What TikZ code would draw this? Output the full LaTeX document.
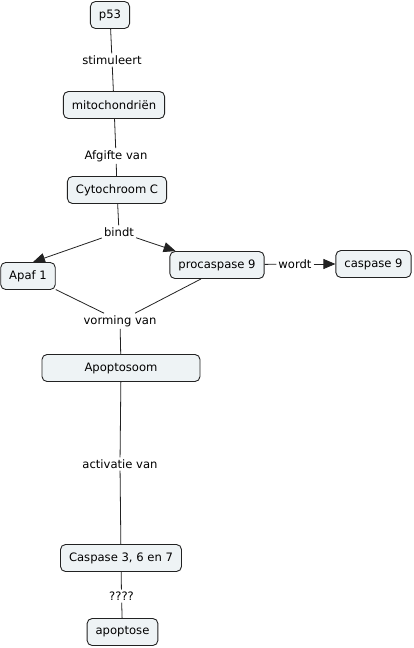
\documentclass[tikz,border=0pt]{standalone}
\usepackage{fontspec}
\setmainfont{DejaVu Sans}
\usetikzlibrary{arrows.meta}
\definecolor{CMFill}{HTML}{EEF3F5}
\definecolor{CMLine}{HTML}{222222}
\tikzset{
  concept/.style={draw=CMLine,line width=0.9pt,fill=CMFill,rounded corners=5pt,
                  text=black,inner xsep=8.5pt,minimum height=27pt,
                  font=\fontsize{11.6}{14}\selectfont},
  linkword/.style={text=black,inner sep=2pt,font=\fontsize{11.6}{14}\selectfont},
  link/.style={CMLine,line width=0.8pt},
  linkarrow/.style={link,-{Triangle[length=12pt,width=10pt]}},
}
\begin{document}
\begin{tikzpicture}[x=1pt,y=-1pt]
  \useasboundingbox (0,0) rectangle (414,648);
  % concepts
  \node[concept] (p53) at (110,15) {p53};
  \node[concept] (mito) at (114,105) {mitochondriën};
  \node[concept] (cyto) at (117,190) {Cytochroom C};
  \node[concept] (apaf) at (28,276) {Apaf 1};
  \node[concept] (proc) at (217,265) {procaspase 9};
  \node[concept] (casp9) at (373.5,264) {caspase 9};
  \node[concept,minimum width=158pt] (apopt) at (121,368) {Apoptosoom};
  \node[concept] (casp367) at (121,558) {Caspase 3, 6 en 7};
  \node[concept] (apoptose) at (122.5,632) {apoptose};

  % linking words
  \node[linkword] (stim) at (112,60) {stimuleert};
  \node[linkword] (afg) at (116,156) {Afgifte van};
  \node[linkword] (bindt) at (119,232) {bindt};
  \node[linkword] (wordt) at (295,264) {wordt};
  \node[linkword] (vorm) at (120,321) {vorming van};
  \node[linkword] (activ) at (120,464) {activatie van};
  \node[linkword] (vraag) at (121.5,596) {????};

  % connections
  \draw[link] (p53) -- (stim);
  \draw[link] (stim) -- (mito);
  \draw[link] (mito) -- (afg);
  \draw[link] (afg) -- (cyto);
  \draw[link] (cyto) -- (bindt);
  \draw[linkarrow] (bindt) -- ([xshift=5pt]apaf.north);
  \draw[linkarrow] (bindt) -- (proc);
  \draw[link] (proc) -- (wordt);
  \draw[linkarrow] (wordt) -- (casp9);
  \draw[link] (apaf) -- (vorm);
  \draw[link] ([xshift=-16pt]proc.south) -- (vorm);
  \draw[link] (vorm) -- (apopt);
  \draw[link] (apopt) -- (activ);
  \draw[link] (activ) -- (casp367);
  \draw[link] (casp367) -- (vraag);
  \draw[link] (vraag) -- (apoptose);
\end{tikzpicture}
\end{document}
